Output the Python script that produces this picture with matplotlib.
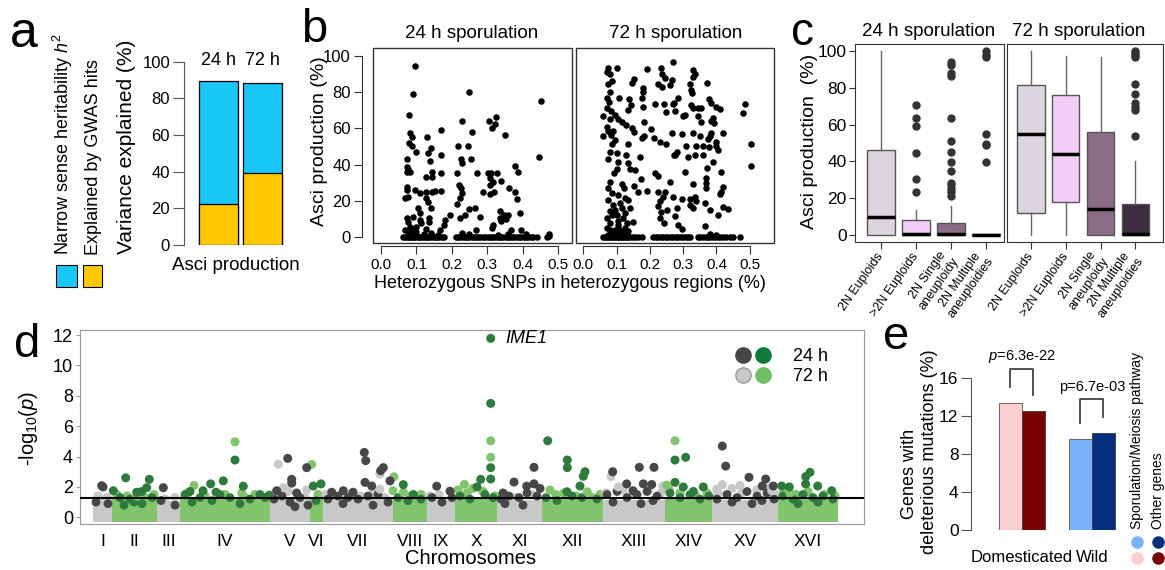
import numpy as np
import matplotlib
matplotlib.use('Agg')
import matplotlib.pyplot as plt
from matplotlib.patches import Rectangle
from matplotlib.lines import Line2D
from matplotlib.legend_handler import HandlerTuple

plt.rcParams['font.family'] = ['Liberation Sans', 'DejaVu Sans']
plt.rcParams['mathtext.fontset'] = 'custom'
plt.rcParams['mathtext.rm'] = 'Liberation Sans'
plt.rcParams['mathtext.it'] = 'Liberation Sans:italic'

# ---------------- data ----------------
# a: variance explained
a_times = ['24 h', '72 h']
a_h2 = [89.5, 88.2]
a_gwas = [22.3, 39.4]

# b: asci production vs heterozygosity (points above zero, then the strains at 0 %)
b24_x = [0.097, 0.090, 0.249, 0.453, 0.079, 0.324, 0.305, 0.230, 0.321, 0.313, 0.170, 0.257, 0.351, 0.083,
         0.086, 0.131, 0.079, 0.086, 0.100, 0.142, 0.133, 0.138, 0.170, 0.218, 0.247, 0.226, 0.255, 0.229,
         0.271, 0.215, 0.072, 0.072, 0.076, 0.072, 0.081, 0.144, 0.144, 0.126, 0.170, 0.302, 0.312, 0.328,
         0.307, 0.316, 0.309, 0.340, 0.378, 0.387, 0.288, 0.307, 0.318, 0.362, 0.378, 0.384, 0.072, 0.074,
         0.067, 0.076, 0.095, 0.109, 0.128, 0.144, 0.152, 0.170, 0.126, 0.133, 0.142, 0.103, 0.109, 0.220,
         0.227, 0.230, 0.224, 0.215, 0.250, 0.265, 0.237, 0.222, 0.279, 0.194, 0.182, 0.074, 0.076, 0.090,
         0.109, 0.114, 0.136, 0.136, 0.335, 0.348, 0.335, 0.354, 0.359, 0.340, 0.392, 0.317, 0.314, 0.269,
         0.368, 0.395, 0.081, 0.067, 0.090, 0.128, 0.166, 0.177, 0.098, 0.448,
         0.08, 0.09, 0.10, 0.12, 0.14, 0.16, 0.25, 0.23, 0.33, 0.36, 0.41, 0.476, 0.475]
b24_y = [94.3, 79.2, 80.3, 75.3, 67.2, 66.3, 64.1, 64.1, 62.2, 60.4, 59.1, 58.2, 56.4, 57.3,
         55.1, 55.2, 51.8, 50.0, 47.2, 49.3, 46.2, 42.0, 45.3, 50.3, 50.3, 42.9, 43.1, 40.7,
         35.4, 35.4, 42.9, 38.5, 37.6, 35.7, 36.1, 36.1, 33.3, 33.1, 35.4, 35.5, 35.2, 35.2,
         32.4, 30.6, 28.7, 31.0, 39.3, 36.1, 25.1, 23.6, 25.1, 27.3, 25.1, 21.2, 27.8, 26.0,
         21.4, 22.3, 26.0, 24.2, 25.1, 25.1, 25.6, 25.4, 21.4, 19.2, 15.9, 16.2, 13.3, 28.7,
         26.9, 24.2, 21.4, 18.1, 15.6, 16.2, 12.2, 10.4, 11.3, 12.2, 9.4, 10.3, 8.5, 11.3,
         9.4, 7.6, 10.4, 8.5, 14.1, 12.2, 10.4, 10.0, 12.2, 8.9, 13.3, 6.8, 4.9, 4.1,
         3.9, 3.9, 5.8, 4.1, 4.1, 4.4, 4.1, 6.8, 5.3, 44.4,
         2.0, 1.5, 2.5, 1.8, 2.2, 1.2, 1.5, 2.0, 1.2, 1.8, 1.5, 1.5, 0.5]
b24_zero_x = [0.062, 0.068, 0.072, 0.078, 0.083, 0.088, 0.093, 0.097, 0.103, 0.108, 0.113, 0.118, 0.124, 0.129,
              0.134, 0.139, 0.146, 0.151, 0.157, 0.163, 0.171, 0.178, 0.212, 0.218, 0.224, 0.231, 0.236, 0.243,
              0.249, 0.256, 0.262, 0.268, 0.275, 0.281, 0.288, 0.295, 0.301, 0.308, 0.314, 0.320, 0.327, 0.333,
              0.339, 0.346, 0.352, 0.358, 0.365, 0.371, 0.377, 0.384, 0.390, 0.397, 0.403, 0.410, 0.416, 0.423,
              0.430, 0.442, 0.470]

b72_x = [0.075, 0.100, 0.190, 0.233, 0.070, 0.080, 0.237, 0.245, 0.223, 0.237, 0.075, 0.085, 0.152, 0.145,
         0.180, 0.180, 0.175, 0.180, 0.080, 0.072, 0.078, 0.107, 0.137, 0.142, 0.135, 0.215, 0.242, 0.247,
         0.273, 0.070, 0.083, 0.095, 0.060, 0.080, 0.105, 0.115, 0.127, 0.145, 0.153, 0.070, 0.075, 0.090,
         0.083, 0.060, 0.095, 0.085, 0.183, 0.203, 0.183, 0.175, 0.213, 0.230, 0.247, 0.135, 0.273, 0.080,
         0.100, 0.127, 0.075, 0.105, 0.135, 0.170, 0.100, 0.093, 0.140, 0.155, 0.215, 0.225, 0.173, 0.080,
         0.115, 0.123, 0.153, 0.190, 0.165, 0.075, 0.085, 0.105, 0.125, 0.135, 0.075, 0.090, 0.115, 0.140,
         0.150, 0.225, 0.245, 0.240, 0.230, 0.225, 0.233, 0.250, 0.230, 0.243, 0.080, 0.070, 0.100, 0.120,
         0.080, 0.105, 0.125, 0.070, 0.095, 0.135, 0.085, 0.115,
         0.270, 0.330, 0.335, 0.330, 0.373, 0.320, 0.323, 0.328, 0.285, 0.265, 0.260, 0.378, 0.385, 0.270,
         0.275, 0.325, 0.330, 0.345, 0.355, 0.400, 0.410, 0.305, 0.300, 0.345, 0.390, 0.385, 0.392, 0.355,
         0.485, 0.480, 0.265, 0.295, 0.330, 0.350, 0.380, 0.375, 0.385, 0.420, 0.400, 0.400, 0.405, 0.310,
         0.340, 0.360, 0.378, 0.280, 0.275, 0.315, 0.335, 0.360, 0.390, 0.373, 0.305, 0.415, 0.505, 0.505,
         0.370, 0.368, 0.370, 0.330, 0.420, 0.415, 0.410, 0.270, 0.295, 0.320, 0.335, 0.340, 0.320, 0.330,
         0.365, 0.380, 0.420, 0.435, 0.280, 0.260, 0.405, 0.365, 0.285, 0.295, 0.275, 0.380, 0.400,
         0.075, 0.090, 0.100, 0.110, 0.120, 0.130, 0.080, 0.105, 0.130, 0.085, 0.095, 0.110, 0.125]
b72_y = [93.5, 93.5, 92.6, 93.1, 91.0, 89.9, 89.9, 87.7, 84.4, 83.1, 84.4, 86.3, 87.4, 85.0,
         82.5, 80.3, 76.6, 72.0, 80.0, 76.6, 74.4, 77.0, 76.3, 73.0, 70.2, 73.3, 73.3, 69.2,
         73.8, 71.1, 69.8, 67.4, 67.0, 65.2, 65.2, 63.4, 61.9, 60.4, 57.9, 61.0, 58.6, 58.6,
         56.3, 55.9, 53.6, 51.2, 63.4, 59.7, 55.9, 54.5, 54.5, 52.3, 51.2, 51.2, 45.3, 46.8,
         46.2, 45.3, 43.1, 41.6, 40.7, 44.4, 37.5, 35.6, 37.5, 37.0, 35.5, 33.9, 32.0, 30.6,
         29.1, 27.3, 28.4, 25.4, 25.1, 26.9, 24.2, 23.3, 21.4, 20.5, 20.5, 17.8, 15.9, 15.9,
         8.5, 25.1, 25.1, 22.3, 20.0, 16.9, 13.8, 15.0, 10.3, 7.6, 14.1, 10.4, 12.2, 10.4,
         7.6, 6.8, 5.0, 5.0, 4.1, 3.1, 2.2, 2.2,
         96.5, 92.1, 89.9, 88.6, 85.2, 84.4, 81.2, 79.4, 77.0, 86.6, 84.0, 76.3, 73.9, 73.3,
         69.8, 73.0, 71.2, 71.5, 71.5, 72.0, 70.7, 67.4, 67.0, 67.0, 66.0, 64.1, 62.8, 63.4,
         73.3, 68.4, 57.5, 56.9, 57.5, 56.0, 56.0, 54.1, 57.5, 57.5, 52.3, 50.5, 48.3, 50.1,
         50.5, 50.5, 49.6, 47.2, 45.3, 44.4, 45.3, 45.3, 41.6, 37.9, 36.1, 36.1, 51.2, 39.3,
         32.4, 29.7, 26.9, 29.1, 27.8, 25.1, 23.6, 22.3, 21.1, 21.1, 22.3, 20.0, 17.8, 15.9,
         18.7, 14.9, 16.7, 15.5, 15.9, 30.2, 11.9, 5.9, 6.4, 4.6, 11.4, 1.5, 1.0,
         1.0, 3.0, 1.5, 4.0, 2.0, 1.0, 4.0, 9.0, 8.0, 12.0, 15.0, 19.0, 13.0]
b72_zero_x = [0.060, 0.065, 0.070, 0.075, 0.080, 0.085, 0.090, 0.095, 0.100, 0.105, 0.110, 0.115, 0.120, 0.125,
              0.130, 0.135, 0.140, 0.148, 0.155, 0.165, 0.175, 0.210, 0.218, 0.225, 0.232, 0.240, 0.247, 0.255,
              0.262, 0.270, 0.278, 0.285, 0.293, 0.300, 0.308, 0.315, 0.322, 0.345, 0.352, 0.360, 0.368, 0.375,
              0.382, 0.390, 0.397, 0.405, 0.412, 0.420, 0.430, 0.440, 0.450, 0.470]

# c: asci production by ploidy (whislo, q1, med, q3, whishi)
c_groups = ['2N Euploids', '>2N Euploids', '2N Single\naneuploidy', '2N Multiple\naneuploidies']
c_colors = ['#DCD4DF', '#F3CDF8', '#8A6C88', '#3D2B3E']
c24_stats = [(0, 0, 10, 46, 100), (0, 0, 0.5, 8, 13.5), (0, 0, 0.5, 6.5, 16), (0, 0, 0, 0.5, 0.5)]
c24_fliers = [[], [70.5, 63.4, 59.4, 44.4, 30.4, 23.2],
              [93.8, 92.2, 88.2, 86.2, 63.8, 50.9, 44.9, 39.7, 35, 28.4, 27, 25, 23.2, 21.2],
              [100, 98, 96.6, 54.9, 49.5, 48.7, 39.9]]
c72_stats = [(0, 12, 55, 81.5, 100), (0, 18, 44, 76, 97.3), (0, 0, 14, 56, 96.6), (0, 0, 0.5, 17, 40)]
c72_fliers = [[], [], [], [100, 99, 98, 97, 81.9, 76.6, 71.6, 69.7, 67.8, 53.8]]

# d: GWAS manhattan
chrom_names = ['I', 'II', 'III', 'IV', 'V', 'VI', 'VII', 'VIII', 'IX', 'X', 'XI', 'XII', 'XIII', 'XIV', 'XV', 'XVI']
chrom_len = [19, 45, 23, 90, 40, 13, 70, 34, 28, 42, 45, 61, 62, 47, 66, 60]
chrom_base = [1.25, 1.2, 1.1, 1.2, 1.2, 1.25, 1.2, 1.2, 1.15, 1.25, 1.15, 1.2, 1.15, 1.2, 1.15, 1.2]
threshold = 1.3
# (chromosome index, position in chromosome, -log10 p)
hits24 = [(0, 8.7, 2.08), (0, 10, 2.0),
          (1, 13.7, 2.6), (1, 37.3, 2.5), (1, 1.3, 1.75), (1, 29.7, 1.7), (1, 34.7, 1.95), (1, 24.7, 1.65),
          (2, 6.3, 1.95),
          (3, 55, 3.77), (3, 43.3, 2.4), (3, 30.7, 2.2), (3, 10, 1.7), (3, 63.3, 2.05), (3, 80, 1.5),
          (3, 89, 1.45), (3, 23, 1.75), (3, 36, 1.65),
          (4, 17.7, 3.88), (4, 21.7, 2.5), (4, 21.7, 2.25), (4, 36.7, 3.27), (4, 6.7, 1.75), (4, 26.7, 1.6),
          (5, 3.3, 2.06), (5, 11, 2.2),
          (6, 41.3, 4.27), (6, 42.7, 3.73), (6, 60.3, 3.27), (6, 57.7, 3.07), (6, 67, 2.4), (6, 42, 2.3),
          (6, 48.7, 2.06), (6, 20.3, 1.75), (6, 8.7, 1.65), (6, 30, 1.65),
          (7, 10.3, 2.15), (7, 20.3, 1.5),
          (8, 9.7, 2.05), (8, 23, 1.72),
          (9, 35.7, 11.78), (9, 35.7, 7.5), (9, 35.7, 3.27), (9, 35.7, 2.52), (9, 25.7, 2.5), (9, 22, 2.0),
          (10, 17, 2.32), (10, 37, 3.29), (10, 29.7, 2.05), (10, 37, 2.2), (10, 43, 1.9), (10, 6, 1.6),
          (11, 5.7, 5.04), (11, 25.3, 3.77), (11, 25.3, 3.27), (11, 43, 3.0), (11, 41.3, 2.7), (11, 38, 2.06),
          (11, 25, 1.68),
          (12, 9.7, 3.0), (12, 36.3, 3.29), (12, 51, 3.29), (12, 23.7, 2.2), (12, 40.3, 2.2), (12, 48.7, 2.16),
          (12, 30, 1.75),
          (13, 10, 3.77), (13, 20.7, 3.95), (13, 10, 2.3), (13, 18.3, 2.0), (13, 38.3, 2.0), (13, 28.3, 1.7),
          (14, 10.3, 4.69), (14, 13.7, 3.37), (14, 37, 2.63), (14, 53.7, 2.52), (14, 50.3, 2.06), (14, 61.3, 2.06),
          (15, 32, 2.96), (15, 27.7, 2.68), (15, 27.7, 2.2), (15, 3.7, 2.06), (15, 11.3, 2.0), (15, 39.7, 2.06),
          (15, 53.7, 1.75)]
band24 = [(0, 3, 1.0), (0, 15, 0.9), (1, 8, 1.3), (1, 18, 1.2), (1, 30, 0.9), (1, 40, 1.3), (2, 4, 1.1),
          (2, 18, 0.8), (3, 5, 1.5), (3, 20, 1.3), (3, 40, 1.5), (3, 50, 1.3), (3, 70, 1.2), (3, 85, 1.3),
          (4, 4, 1.2), (4, 12, 1.4), (4, 20, 1.0), (4, 30, 1.3), (4, 38, 0.8), (5, 6, 1.1), (6, 5, 1.2),
          (6, 15, 1.4), (6, 25, 1.3), (6, 35, 1.2), (6, 45, 1.4), (6, 55, 1.5), (6, 65, 1.0), (7, 5, 1.3),
          (7, 15, 1.1), (7, 28, 1.2), (8, 5, 1.3), (8, 15, 1.0), (8, 25, 1.3), (9, 5, 1.4), (9, 15, 1.2),
          (9, 30, 1.5), (9, 38, 1.3), (10, 4, 1.2), (10, 12, 1.4), (10, 22, 1.3), (10, 30, 1.6), (10, 40, 1.4),
          (11, 4, 1.3), (11, 15, 1.1), (11, 30, 1.4), (11, 40, 1.3), (11, 55, 1.2), (12, 4, 1.5), (12, 14, 1.7),
          (12, 24, 1.3), (12, 34, 1.5), (12, 44, 1.7), (12, 54, 1.4), (13, 5, 1.6), (13, 15, 1.3), (13, 25, 1.5),
          (13, 35, 1.2), (13, 44, 1.4), (14, 5, 1.2), (14, 15, 1.5), (14, 25, 1.3), (14, 35, 1.7), (14, 45, 1.4),
          (14, 55, 1.6), (14, 62, 1.2), (15, 5, 1.4), (15, 15, 1.2), (15, 25, 1.5), (15, 35, 1.3), (15, 45, 1.4),
          (15, 55, 1.2),
          (1, 12, 0.8), (1, 22, 1.0), (3, 12, 1.0), (3, 32, 1.1), (3, 60, 0.9), (4, 25, 0.7), (6, 20, 0.9),
          (6, 50, 0.8), (10, 8, 0.9), (10, 26, 0.8), (12, 10, 1.0), (12, 38, 0.9), (12, 50, 1.1), (14, 20, 1.0),
          (14, 40, 0.9), (14, 50, 1.1), (15, 20, 0.9), (15, 40, 1.0)]
band72 = [(0, 5, 1.4), (0, 14, 1.3), (1, 5, 1.5), (1, 15, 1.4), (1, 33, 1.3), (1, 42, 1.5), (2, 8, 1.2),
          (2, 18, 1.3), (3, 8, 1.6), (3, 25, 1.4), (3, 45, 1.5), (3, 65, 1.3), (3, 75, 1.5), (3, 88, 1.3),
          (4, 3, 1.5), (4, 18, 1.7), (4, 28, 1.4), (4, 35, 1.3), (5, 8, 1.5), (6, 3, 1.5), (6, 12, 1.3),
          (6, 28, 1.5), (6, 38, 1.4), (6, 50, 1.6), (6, 62, 1.3), (7, 18, 1.4), (7, 28, 1.5), (8, 3, 1.4),
          (8, 12, 1.5), (8, 24, 1.2), (9, 3, 1.8), (9, 12, 1.6), (9, 28, 1.7), (9, 40, 1.4), (10, 8, 1.5),
          (10, 18, 1.3), (10, 35, 1.5), (11, 14, 1.5), (11, 22, 1.6), (11, 34, 1.4), (11, 50, 1.3),
          (11, 58, 1.5), (12, 3, 1.6), (12, 20, 1.8), (12, 32, 1.5), (12, 46, 1.8), (12, 58, 1.6),
          (13, 4, 1.8), (13, 15, 1.6), (13, 30, 1.5), (13, 42, 1.6), (14, 6, 1.6), (14, 20, 1.9),
          (14, 30, 1.6), (14, 45, 1.8), (14, 56, 1.9), (14, 64, 1.5), (15, 6, 1.7), (15, 18, 1.5),
          (15, 30, 1.7), (15, 46, 1.5), (15, 57, 1.4)]
hits72 = [(1, 24.7, 1.4), (3, 55, 4.97), (3, 14, 2.1), (3, 61.7, 1.6), (4, 8.3, 3.5), (4, 13.3, 1.95),
          (4, 36.7, 1.8), (5, 1.7, 3.48), (6, 57, 2.85), (6, 57, 1.85), (7, 1, 2.67), (7, 0, 1.75),
          (7, 10.3, 1.65), (9, 35.7, 5.04), (9, 35.7, 3.95), (9, 9.3, 2.17), (9, 17.7, 1.9), (11, 8, 1.8),
          (11, 45.3, 1.68), (12, 8, 2.68), (12, 15.3, 2.0), (12, 59.7, 2.05), (13, 10, 5.04), (13, 1.7, 2.12),
          (14, 10.3, 2.15), (14, 4.7, 1.85), (14, 28, 2.1), (14, 59.7, 1.75), (15, 12, 1.6)]

# e: deleterious mutations
e_groups = ['Domesticated', 'Wild']
e_meiosis = [13.4, 9.6]
e_other = [12.5, 10.2]
e_pvals = ['$p$=6.3e-22', 'p=6.7e-03']
e_col_meiosis = ['#F9CFCF', '#78B2F8']
e_col_other = ['#780000', '#06307F']

# ---------------- figure ----------------
W, H = 1165, 570
fig = plt.figure(figsize=(W / 100, H / 100), dpi=100)


def fx(px):
    return px / W


def fy(py):
    return 1 - py / H


def add_ax(l, t, r, b):
    return fig.add_axes([l / W, 1 - b / H, (r - l) / W, (b - t) / H])


def plabel(px, py, s, size=34):
    fig.text(fx(px), fy(py), s, fontsize=size, ha='left', va='baseline')


# ---- a ----
ax = add_ax(184, 61.7, 290, 245)
xa = np.arange(len(a_times))
ax.bar(xa, a_h2, width=0.88, color='#1AC8F8', edgecolor='black', lw=0.9)
ax.bar(xa, a_gwas, width=0.88, color='#FFC800', edgecolor='black', lw=0.9)
for x, t in zip(xa, a_times):
    ax.text(x, 100.5, t, ha='center', va='center', fontsize=13, clip_on=False)
ax.set_xlim(-0.78, 1.625)
ax.set_ylim(0, 100)
ax.set_xticks([])
ax.set_yticks(range(0, 101, 20))
for s in ['top', 'right', 'bottom']:
    ax.spines[s].set_visible(False)
ax.spines['left'].set_color('#555')
ax.tick_params(axis='y', length=8, color='#555', labelsize=12, pad=2)
fig.text(fx(236), fy(266), 'Asci production', ha='center', va='center', fontsize=13.5)
fig.text(fx(127), fy(147), 'Variance explained (%)', rotation=90, ha='center', va='center', fontsize=15)
fig.text(fx(63), fy(255), 'Narrow sense heritability $h^2$', rotation=90, ha='center', va='bottom', fontsize=13)
fig.text(fx(93), fy(255), 'Explained by GWAS hits', rotation=90, ha='center', va='bottom', fontsize=13)
fig.add_artist(Rectangle((fx(56), fy(287)), 21 / W, 22 / H, transform=fig.transFigure,
                         fc='#1AC8F8', ec='black', lw=0.8))
fig.add_artist(Rectangle((fx(83), fy(287)), 19 / W, 22 / H, transform=fig.transFigure,
                         fc='#FFC800', ec='black', lw=0.8))
plabel(10, 47, 'a', 36)


# ---- b ----
def scatter_panel(ax, xs, ys, zero_x, xmax, show_y):
    ax.scatter(xs, ys, s=22, c='black', lw=0, clip_on=False)
    ax.scatter(zero_x, np.zeros(len(zero_x)), s=22, c='black', lw=0, clip_on=False)
    ax.set_xlim(-0.023, xmax)
    ax.set_ylim(-3.3, 104.4)
    for s in ax.spines.values():
        s.set_visible(False)
    ax.add_patch(Rectangle((0, 0), 1, 1, transform=ax.transAxes, fill=False, ec='#333', lw=1, clip_on=False))
    ax.spines['bottom'].set_visible(True)
    ax.spines['bottom'].set_position(('outward', 2))
    ax.spines['bottom'].set_bounds(0, 0.5)
    ax.spines['bottom'].set_color('#333')
    ticks = np.arange(0, 0.51, 0.1)
    ax.set_xticks(ticks)
    ax.set_xticklabels(['%.1f' % v for v in ticks])
    ax.tick_params(axis='x', length=6, color='#333', labelsize=11, pad=3)
    if show_y:
        ax.spines['left'].set_visible(True)
        ax.spines['left'].set_position(('outward', 8))
        ax.spines['left'].set_bounds(0, 100)
        ax.spines['left'].set_color('#333')
        ax.set_yticks(range(0, 101, 20))
        ax.tick_params(axis='y', length=6, color='#333', labelsize=12, pad=2)
    else:
        ax.set_yticks([])


ax = add_ax(373, 48, 572, 243)
scatter_panel(ax, b24_x, b24_y, b24_zero_x, 0.54, True)
ax = add_ax(575.7, 48, 774, 243)
scatter_panel(ax, b72_x, b72_y, b72_zero_x, 0.573, False)
fig.text(fx(472), fy(33), '24 h sporulation', ha='center', va='center', fontsize=13.5)
fig.text(fx(676), fy(33), '72 h sporulation', ha='center', va='center', fontsize=13.5)
fig.text(fx(319), fy(141), 'Asci production (%)', rotation=90, ha='center', va='center', fontsize=14)
fig.text(fx(570), fy(283), 'Heterozygous SNPs in heterozygous regions (%)', ha='center', va='center', fontsize=13)
plabel(301, 42, 'b', 34)


# ---- c ----
def box_panel(ax, stats, fliers, xlim, show_y):
    bstats = []
    for (lo, q1, med, q3, hi), fl in zip(stats, fliers):
        bstats.append(dict(whislo=lo, q1=q1, med=med, q3=q3, whishi=hi, fliers=fl))
    bp = ax.bxp(bstats, positions=[1, 2, 3, 4], widths=0.79, patch_artist=True, showcaps=False,
                boxprops=dict(edgecolor='#555', lw=1),
                medianprops=dict(color='black', lw=2.5, solid_capstyle='butt'),
                whiskerprops=dict(color='#666', lw=1),
                flierprops=dict(marker='o', mfc='#333', mec='#333', ms=5))
    for patch, col in zip(bp['boxes'], c_colors):
        patch.set_facecolor(col)
    ax.set_xlim(*xlim)
    ax.set_ylim(-3.8, 103.8)
    for s in ax.spines.values():
        s.set_color('#333')
    ax.set_xticks([1, 2, 3, 4])
    ax.set_xticklabels(c_groups, rotation=55, ha='right', va='center', rotation_mode='anchor',
                       fontsize=9, multialignment='center')
    ax.tick_params(axis='x', length=5, color='#333', pad=4)
    if show_y:
        ax.set_yticks(range(0, 101, 20))
        ax.tick_params(axis='y', length=4, color='#333', labelsize=12.5, pad=2)
    else:
        ax.set_yticks([])


ax = add_ax(855, 44, 1004, 242)
box_panel(ax, c24_stats, c24_fliers, (0.26, 4.52), True)
ax = add_ax(1007, 44, 1163, 242)
box_panel(ax, c72_stats, c72_fliers, (0.32, 4.79), False)
fig.text(fx(929), fy(31), '24 h sporulation', ha='center', va='center', fontsize=13.5)
fig.text(fx(1079), fy(31), '72 h sporulation', ha='center', va='center', fontsize=13.5)
fig.text(fx(809), fy(141), 'Asci production  (%)', rotation=90, ha='center', va='center', fontsize=14)
plabel(791, 45, 'c', 33)

# ---- d ----
ax = add_ax(80, 330, 864, 524)
starts = np.concatenate([[0], np.cumsum(chrom_len)[:-1]])
centers = starts + np.array(chrom_len) / 2
light = ['#C8C8C8' if i % 2 == 0 else '#82C46E' for i in range(len(chrom_len))]
dark = ['#474747' if i % 2 == 0 else '#2E7B3D' for i in range(len(chrom_len))]
ax.bar(centers, np.array(chrom_base) + 0.28, bottom=-0.28, width=chrom_len, color=light, lw=0)


def manhattan(points, palette, size):
    xs = [starts[c] + p for c, p, v in points]
    ys = [v for c, p, v in points]
    cs = [palette[c] for c, p, v in points]
    ax.scatter(xs, ys, s=size, c=cs, lw=0, zorder=3)


manhattan(band72, light, 44)
manhattan(band24, dark, 40)
manhattan(hits72, light, 42)
manhattan(hits24, dark, 42)
ax.axhline(threshold, color='black', lw=1.5, zorder=4)
imx = starts[9] + 35.7
ax.text(imx + 15, 11.78, 'IME1', style='italic', ha='left', va='center', fontsize=13)
ax.set_xlim(-13, 771)
ax.set_ylim(-0.44, 12.33)
ax.set_yticks(range(0, 13, 2))
ax.set_xticks(centers)
ax.set_xticklabels(chrom_names)
ax.tick_params(axis='x', length=0, labelsize=12.5, pad=7)
ax.tick_params(axis='y', length=3, color='#999', labelsize=13, pad=2)
for s in ax.spines.values():
    s.set_color('#999')
h24 = (Line2D([], [], ls='', marker='o', ms=11, mfc='#474747', mec='#474747'),
       Line2D([], [], ls='', marker='o', ms=11, mfc='#117A3D', mec='#117A3D'))
h72 = (Line2D([], [], ls='', marker='o', ms=11, mfc='#C8C8C8', mec='#999'),
       Line2D([], [], ls='', marker='o', ms=11, mfc='#6DC063', mec='#6DC063'))
ax.legend([h24, h72], ['24 h', '72 h'], handler_map={tuple: HandlerTuple(ndivide=None, pad=0.2)},
          loc='upper right', bbox_to_anchor=(0.975, 0.99), frameon=False, fontsize=13,
          handlelength=2.0, handletextpad=1.2, labelspacing=0.15)
fig.text(fx(471), fy(558), 'Chromosomes', ha='center', va='center', fontsize=14.5)
fig.text(fx(28), fy(428), '-log$_{10}$($p$)', rotation=90, ha='center', va='center', fontsize=14.5)
plabel(14, 357, 'd', 34)

# ---- e ----
ax = add_ax(971, 378.3, 1125, 530)
gc = np.array([0.5, 3.54])
xm = gc - 0.5
xo = gc + 0.5
ax.bar(xm, e_meiosis, width=1.0, color=e_col_meiosis, edgecolor='#666', lw=0.7)
ax.bar(xo, e_other, width=1.0, color=e_col_other, edgecolor='#444', lw=0.7)
for i in range(len(e_groups)):
    top = max(e_meiosis[i], e_other[i]) + 3.6
    ax.plot([xm[i], xm[i], xo[i], xo[i]], [e_meiosis[i] + 1.7, top, top, e_other[i] + 1.7],
            color='#333', lw=1.2, clip_on=False)
    ax.text(gc[i], top + 1.3, e_pvals[i], ha='center', va='center', fontsize=10.5, clip_on=False)
ax.set_xlim(-1.71, 4.98)
ax.set_ylim(0, 16)
ax.set_xticks([])
ax.set_yticks(range(0, 17, 4))
for s in ['top', 'right', 'bottom']:
    ax.spines[s].set_visible(False)
ax.spines['left'].set_color('#555')
ax.tick_params(axis='y', length=7, color='#555', labelsize=12.5, pad=2)
for g, x in zip(e_groups, [1022, 1092]):
    fig.text(fx(x), fy(558), g, ha='center', va='center', fontsize=12)
fig.text(fx(910), fy(474), 'Genes with', rotation=90, ha='center', va='center', fontsize=13)
fig.text(fx(929), fy(452), 'deleterious mutations (%)', rotation=90, ha='center', va='center', fontsize=13)
fig.text(fx(1137), fy(529), 'Sporulation/Meiosis pathway', rotation=90, ha='center', va='bottom', fontsize=10)
fig.text(fx(1158), fy(529), 'Other genes', rotation=90, ha='center', va='bottom', fontsize=10)
for px, cols in zip([1137, 1158], [(e_col_meiosis[1], e_col_meiosis[0]), (e_col_other[1], e_col_other[0])]):
    for py, col in zip([541.7, 558], cols):
        fig.add_artist(Line2D([fx(px)], [fy(py)], transform=fig.transFigure, ls='', marker='o',
                              ms=8, mfc=col, mec=col))
plabel(883, 349, 'e', 34)

fig.savefig('out.png', dpi=100)
